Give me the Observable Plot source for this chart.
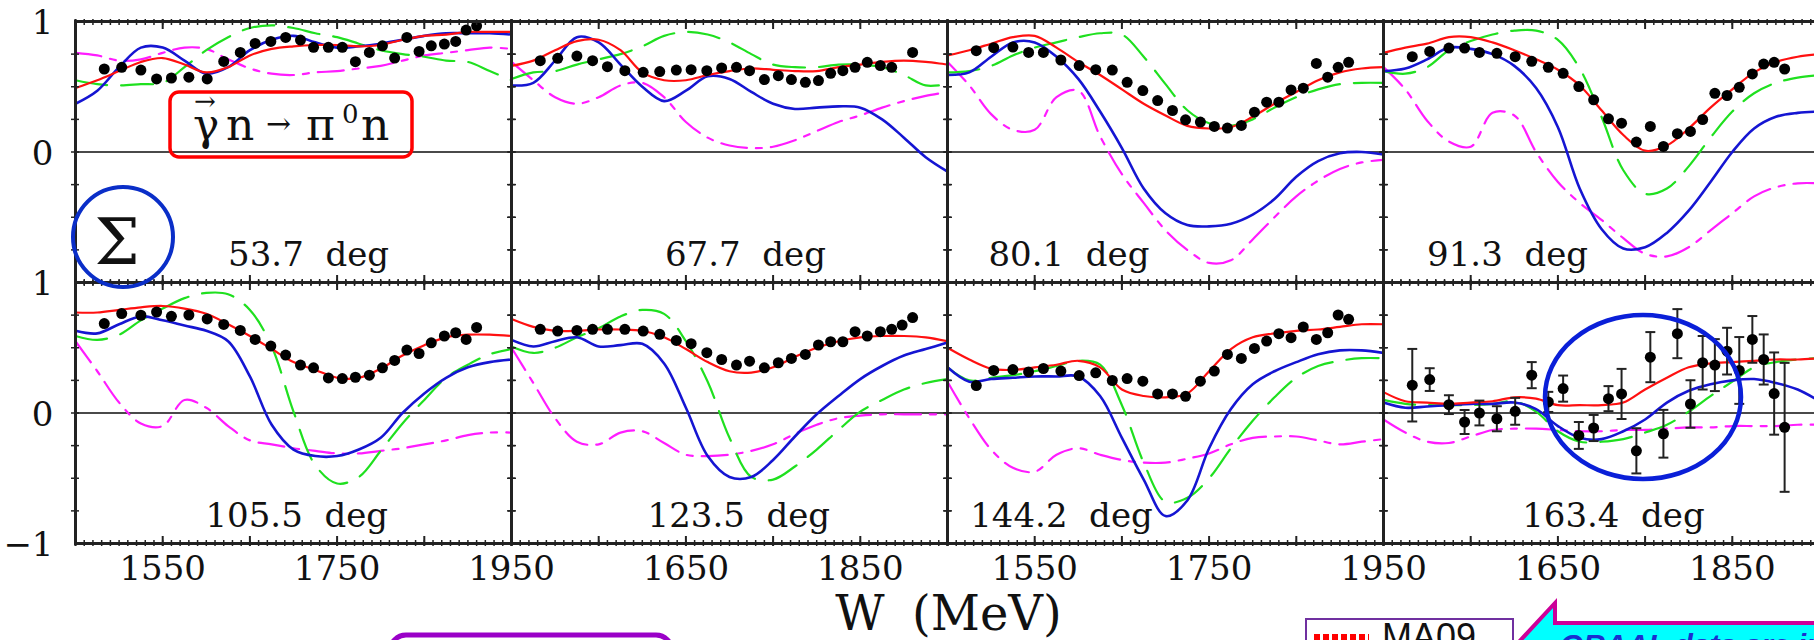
<!DOCTYPE html>
<html><head><meta charset="utf-8">
<script src="https://cdn.jsdelivr.net/npm/d3@7"></script>
<script src="https://cdn.jsdelivr.net/npm/@observablehq/plot@0.6"></script>
<style>
html,body{margin:0;padding:0;background:#fff;overflow:hidden;}
#chart svg{max-width:none !important;display:block;}
svg text{white-space:pre;}
</style></head><body><div id="chart"></div>
<script>
// ---- panels (scattering angles) ----
const angles = ["53.7","67.7","80.1","91.3","105.5","123.5","144.2","163.4"];
// label anchor (W, MeV) of each panel's angle label
const labelW = [1625,1626,1497,1500,1599,1606,1476,1609];

// ---- model curves on a common W grid (MeV) ----
const wGrid = [1450,1475,1500,1525,1550,1575,1600,1625,1650,1675,1700,1725,1750,1775,1800,1825,1850,1875,1900,1925,1950];
const ma09 = [ // red solid
 [0.49,0.55,0.62,0.69,0.72,0.67,0.61,0.65,0.74,0.79,0.81,0.82,0.82,0.81,0.82,0.86,0.89,0.90,0.92,0.92,0.92],
 [0.66,0.70,0.78,0.85,0.86,0.78,0.61,0.55,0.55,0.59,0.62,0.64,0.63,0.62,0.62,0.65,0.67,0.69,0.70,0.69,0.67],
 [0.74,0.78,0.83,0.88,0.89,0.80,0.69,0.59,0.48,0.37,0.28,0.20,0.18,0.19,0.27,0.37,0.46,0.55,0.61,0.64,0.65],
 [0.76,0.80,0.83,0.88,0.88,0.84,0.78,0.71,0.63,0.51,0.32,0.13,0.01,0.05,0.18,0.34,0.48,0.61,0.69,0.73,0.75],
 [0.77,0.77,0.79,0.81,0.82,0.80,0.76,0.68,0.59,0.49,0.39,0.33,0.27,0.27,0.34,0.44,0.52,0.58,0.60,0.60,0.59],
 [0.72,0.66,0.63,0.63,0.64,0.64,0.63,0.58,0.49,0.39,0.32,0.31,0.35,0.43,0.50,0.55,0.58,0.59,0.59,0.58,0.55],
 [0.50,0.41,0.34,0.33,0.35,0.37,0.40,0.35,0.18,0.13,0.12,0.15,0.32,0.49,0.58,0.61,0.63,0.64,0.66,0.68,0.68],
 [0.16,0.09,0.08,0.07,0.08,0.09,0.12,0.11,0.06,0.06,0.06,0.08,0.18,0.27,0.35,0.38,0.39,0.40,0.41,0.41,0.42]
];
const blueModel = [ // blue solid
 [0.37,0.47,0.65,0.80,0.80,0.70,0.60,0.65,0.78,0.86,0.89,0.84,0.80,0.81,0.83,0.86,0.89,0.91,0.91,0.91,0.90],
 [0.51,0.53,0.70,0.88,0.84,0.67,0.50,0.39,0.47,0.58,0.56,0.46,0.37,0.33,0.34,0.35,0.34,0.25,0.11,-0.04,-0.15],
 [0.59,0.61,0.73,0.84,0.84,0.73,0.56,0.31,0.03,-0.28,-0.47,-0.56,-0.57,-0.55,-0.48,-0.36,-0.19,-0.07,-0.01,0.00,-0.02],
 [0.62,0.64,0.71,0.80,0.79,0.75,0.66,0.49,0.19,-0.28,-0.59,-0.74,-0.73,-0.62,-0.45,-0.23,0.00,0.18,0.27,0.30,0.31],
 [0.63,0.61,0.68,0.74,0.71,0.67,0.63,0.55,0.28,-0.09,-0.28,-0.33,-0.33,-0.28,-0.19,0.00,0.15,0.27,0.35,0.39,0.41],
 [0.56,0.51,0.55,0.58,0.51,0.52,0.53,0.38,0.04,-0.33,-0.49,-0.49,-0.36,-0.18,-0.01,0.13,0.26,0.36,0.44,0.49,0.54],
 [0.35,0.24,0.26,0.27,0.28,0.28,0.28,0.13,-0.19,-0.51,-0.79,-0.67,-0.27,0.03,0.22,0.32,0.39,0.45,0.48,0.48,0.46],
 [0.08,0.04,0.05,0.06,0.07,0.07,0.08,0.03,-0.10,-0.19,-0.20,-0.14,-0.05,0.08,0.17,0.22,0.25,0.26,0.23,0.18,0.09]
];
const greenModel = [ // green long dash
 [0.55,0.52,0.51,0.52,0.53,0.65,0.78,0.88,0.95,0.97,0.95,0.91,0.88,0.83,0.78,0.75,0.73,0.70,0.69,0.62,0.55],
 [0.56,0.61,0.62,0.67,0.71,0.75,0.81,0.89,0.92,0.90,0.84,0.75,0.67,0.65,0.65,0.67,0.67,0.65,0.59,0.51,0.52],
 [0.61,0.62,0.66,0.74,0.80,0.84,0.88,0.91,0.90,0.73,0.52,0.32,0.22,0.20,0.25,0.34,0.42,0.48,0.52,0.53,0.53],
 [0.62,0.60,0.65,0.78,0.85,0.90,0.93,0.93,0.86,0.64,0.27,-0.14,-0.32,-0.28,-0.11,0.11,0.31,0.45,0.53,0.57,0.59],
 [0.59,0.56,0.60,0.71,0.80,0.88,0.92,0.91,0.79,0.51,0.01,-0.40,-0.54,-0.49,-0.29,-0.08,0.10,0.27,0.37,0.45,0.49],
 [0.51,0.46,0.50,0.58,0.65,0.74,0.79,0.76,0.55,0.24,-0.19,-0.49,-0.51,-0.41,-0.28,-0.13,0.01,0.10,0.18,0.23,0.26],
 [0.35,0.25,0.27,0.29,0.32,0.36,0.40,0.37,0.06,-0.38,-0.68,-0.65,-0.50,-0.27,-0.06,0.12,0.27,0.36,0.40,0.42,0.42],
 [0.10,0.07,0.06,0.06,0.06,0.07,0.09,0.01,-0.14,-0.22,-0.22,-0.20,-0.15,-0.09,0.01,0.13,0.24,0.35,0.39,0.41,0.42]
];
const magentaModel = [ // magenta dash-dot
 [0.76,0.74,0.70,0.71,0.76,0.80,0.79,0.71,0.64,0.60,0.59,0.61,0.62,0.64,0.66,0.70,0.74,0.76,0.78,0.80,0.79],
 [0.69,0.55,0.42,0.37,0.42,0.51,0.53,0.42,0.23,0.11,0.05,0.03,0.04,0.09,0.16,0.23,0.28,0.34,0.39,0.43,0.46],
 [0.69,0.51,0.29,0.17,0.17,0.42,0.47,0.12,-0.17,-0.39,-0.60,-0.75,-0.85,-0.83,-0.67,-0.50,-0.34,-0.22,-0.13,-0.08,-0.06],
 [0.65,0.48,0.24,0.08,0.04,0.30,0.28,0.00,-0.23,-0.39,-0.52,-0.66,-0.78,-0.80,-0.73,-0.60,-0.47,-0.34,-0.27,-0.24,-0.24],
 [0.55,0.32,0.08,-0.08,-0.10,0.10,0.04,-0.10,-0.21,-0.24,-0.27,-0.29,-0.31,-0.31,-0.29,-0.27,-0.24,-0.21,-0.17,-0.15,-0.15],
 [0.50,0.23,-0.04,-0.22,-0.24,-0.15,-0.14,-0.23,-0.32,-0.33,-0.32,-0.29,-0.24,-0.16,-0.09,-0.04,-0.02,-0.01,-0.01,-0.01,-0.01],
 [0.24,-0.04,-0.28,-0.42,-0.45,-0.32,-0.27,-0.32,-0.36,-0.38,-0.38,-0.35,-0.31,-0.24,-0.19,-0.18,-0.18,-0.21,-0.24,-0.22,-0.20],
 [-0.05,-0.15,-0.22,-0.23,-0.18,-0.13,-0.12,-0.12,-0.13,-0.14,-0.14,-0.13,-0.13,-0.12,-0.11,-0.11,-0.10,-0.10,-0.10,-0.09,-0.09]
];

// ---- GRAAL data: common energies, beam asymmetry per panel ----
const dataW = [1483,1503,1525,1543,1560,1580,1601,1620,1639,1656,1674,1691,1708,1723,1740,1756,1771,1787,1802,1816,1830,1844,1858,1873,1886,1898,1910];
const sigma = [
 [0.636,0.649,0.628,0.560,0.567,0.573,0.560,0.694,0.763,0.832,0.847,0.878,0.858,0.802,0.802,0.802,0.692,0.763,0.814,0.720,0.878,0.771,0.814,0.827,0.847,0.934,0.967],
 [0.700,0.718,0.735,0.700,0.654,0.623,0.611,0.616,0.628,0.631,0.623,0.644,0.649,0.623,0.555,0.585,0.555,0.534,0.547,0.603,0.623,0.649,0.687,0.662,0.649,null,0.763],
 [0.776,0.799,0.804,0.763,0.763,0.705,0.662,0.631,0.628,0.534,0.471,0.394,0.318,0.247,0.229,0.196,0.183,0.204,0.305,0.382,0.382,0.476,0.489,0.679,0.573,0.649,0.687],
 [0.730,0.771,0.796,0.796,0.763,0.756,0.730,0.695,0.649,0.603,0.501,0.400,0.254,0.221,0.076,0.196,0.043,0.140,0.158,0.249,0.450,0.433,0.496,0.598,0.674,0.687,0.636],
 [0.685,0.762,0.749,0.774,0.741,0.751,0.721,0.679,0.633,0.564,0.513,0.444,0.367,0.346,0.269,0.264,0.274,0.290,0.346,0.403,0.482,0.456,0.538,0.590,0.615,0.564,0.656],
 [0.641,0.628,0.633,0.641,0.641,0.641,0.628,0.603,0.556,0.531,0.462,0.410,0.367,0.397,0.346,0.385,0.418,0.449,0.521,0.546,0.546,0.623,0.590,0.623,0.641,0.674,0.731],
 [0.210,0.326,0.333,0.315,0.341,0.321,0.287,0.308,0.249,0.264,0.244,0.146,0.146,0.128,0.244,0.321,0.449,0.418,0.495,0.551,0.608,0.577,0.659,0.564,0.615,0.751,0.718],
 [0.213,0.256,0.064,-0.069,0.000,-0.044,0.013,0.290,0.085,0.187,-0.172,-0.115,0.110,0.146,-0.290,0.428,-0.159,0.608,0.069,0.385,0.367,0.474,0.326,0.564,0.410,0.149,-0.110]
];
const sigmaErr163 = [0.278,0.087,0.072,0.092,0.095,0.096,0.103,0.100,0.077,0.100,0.103,0.100,0.096,0.192,0.173,0.192,0.183,0.188,0.182,0.205,0.199,0.179,0.256,0.179,0.192,0.315,0.494];

// ---- axis tick labels ----
const xTickLabels = [[1550,1750,1950],[1650,1850],[1550,1750,1950],[1650,1850]];
const yTickLabels = [[0,1,"1"],[0,0,"0"],[1,1,"1"],[1,0,"0"],[1,-1,"\u22121"]];
const minorX = d3.range(1450,1951,10);
const majorX = [1450,1550,1650,1750,1850,1950];
const yTicks = [-0.75,-0.5,-0.25,0,0.25,0.5,0.75];

// ---- build tables ----
const col = p => p % 4, row = p => Math.floor(p / 4);
const models = [
  {name:"magenta", vals: magentaModel, stroke:"#ff1cff", width:2.2, dash:"26,9,6,9"},
  {name:"green", vals: greenModel, stroke:"#1fe01f", width:2.2, dash:"32,14"},
  {name:"blue", vals: blueModel, stroke:"#1515d2", width:2.6, dash:null},
  {name:"MA09", vals: ma09, stroke:"#ff1010", width:2.2, dash:null}
];
const curveRows = m => m.vals.flatMap((arr,p) => arr.map((v,i) => ({col:col(p),row:row(p),W:wGrid[i],v})));
const dataRows = sigma.flatMap((arr,p) => arr.map((v,i) => ({col:col(p),row:row(p),W:dataW[i],v,e:p===7?sigmaErr163[i]:null}))).filter(d => d.v != null);
const errRows = dataRows.filter(d => d.e != null);
const panels = angles.map((a,p) => ({col:col(p),row:row(p),W:labelW[p],text:`${a}  deg`}));
const zeroRows = d3.cross([0,1,2,3],[0,1]).map(([c,r]) => ({col:c,row:r,v:0}));
const xLabRows = xTickLabels.flatMap((ts,c) => ts.map(t => ({col:c,row:1,W:t,text:String(t)})));
const yLabRows = yTickLabels.map(([r,v,t]) => ({col:0,row:r,v,text:t}));

const capSymbol = {draw(ctx,size){const w=Math.sqrt(size);ctx.moveTo(-w/2,0);ctx.lineTo(w/2,0);}};
const font = "DejaVu Serif";

const chart = Plot.plot({
  width: 1819, height: 640,
  marginLeft: 75, marginRight: 0, marginTop: 21, marginBottom: 97,
  style: {fontFamily: font, fontSize: "34px", background: "white", maxWidth: "none"},
  fx: {domain:[0,1,2,3], padding:0, axis:null},
  fy: {domain:[0,1], padding:0, axis:null},
  x: {domain:[1450,1950], label:null},
  y: {domain:[-1,1], label:null},
  marks: [
    Plot.ruleY(zeroRows, {y:"v", fx:"col", fy:"row", stroke:"#4a4a4a", strokeWidth:2}),
    ...models.map(m => Plot.line(curveRows(m), {x:"W", y:"v", fx:"col", fy:"row", stroke:m.stroke, strokeWidth:m.width, strokeDasharray:m.dash, curve:"catmull-rom", clip:true})),
    Plot.ruleX(errRows, {x:"W", y1:d=>d.v-d.e, y2:d=>d.v+d.e, fx:"col", fy:"row", stroke:"#222", strokeWidth:2, clip:true}),
    Plot.dot(errRows, {x:"W", y:d=>d.v+d.e, fx:"col", fy:"row", symbol:capSymbol, r:5.6, stroke:"#222", strokeWidth:2}),
    Plot.dot(errRows, {x:"W", y:d=>d.v-d.e, fx:"col", fy:"row", symbol:capSymbol, r:5.6, stroke:"#222", strokeWidth:2}),
    Plot.dot(dataRows, {x:"W", y:"v", fx:"col", fy:"row", r:5.5, fill:"#000"}),
    Plot.frame({stroke:"#222", strokeWidth:3}),
    Plot.axisX(minorX, {anchor:"bottom", tickSize:6, dy:-3, tickFormat:()=>"", label:null, facetAnchor:null, stroke:"#222", strokeWidth:1.5}),
    Plot.axisX(minorX, {anchor:"top", tickSize:6, dy:3, tickFormat:()=>"", label:null, facetAnchor:null, stroke:"#222", strokeWidth:1.5}),
    Plot.axisX(majorX, {anchor:"bottom", tickSize:10, dy:-7, tickFormat:()=>"", label:null, facetAnchor:null, stroke:"#222", strokeWidth:2}),
    Plot.axisX(majorX, {anchor:"top", tickSize:10, dy:7, tickFormat:()=>"", label:null, facetAnchor:null, stroke:"#222", strokeWidth:2}),
    Plot.axisY(yTicks, {anchor:"left", tickSize:8, dx:4, tickFormat:()=>"", label:null, facetAnchor:null, stroke:"#222", strokeWidth:1.5}),
    Plot.axisY(yTicks, {anchor:"right", tickSize:8, dx:-4, tickFormat:()=>"", label:null, facetAnchor:null, stroke:"#222", strokeWidth:1.5}),
    Plot.text(xLabRows, {x:"W", text:"text", fx:"col", fy:"row", frameAnchor:"bottom", dy:26, lineAnchor:"middle", fontSize:34, fill:"#111"}),
    Plot.text(yLabRows, {y:"v", text:"text", fx:"col", fy:"row", frameAnchor:"left", dx:-22, dy:2, textAnchor:"end", lineAnchor:"middle", fontSize:34, fill:"#111"}),
    Plot.text(panels, {x:"W", text:"text", fx:"col", fy:"row", frameAnchor:"bottom", dy:-17, lineAnchor:"bottom", textAnchor:"start", fontSize:34, fill:"#111"})
  ]
});
document.getElementById("chart").appendChild(chart);

// ---- annotations ----
const svg = d3.select(chart);
const ann = svg.append("g").attr("font-family", font).attr("text-anchor","start");
// reaction box
ann.append("rect").attr("x",170).attr("y",92).attr("width",242).attr("height",65).attr("rx",9)
  .attr("fill","none").attr("stroke","#ff0000").attr("stroke-width",3.5);
const rx = ann.append("text").attr("y",140).attr("font-size",44).attr("fill","#111");
rx.append("tspan").attr("x",193).text("γ");
rx.append("tspan").attr("x",226).text("n");
rx.append("tspan").attr("x",266).attr("font-size",30).attr("dy",-6).text("→");
rx.append("tspan").attr("x",306).attr("dy",6).text("π");
rx.append("tspan").attr("x",342).attr("font-size",26).attr("dy",-17).text("0");
rx.append("tspan").attr("x",361).attr("dy",17).text("n");
ann.append("text").attr("x",194).attr("y",110).attr("font-size",26).attr("fill","#111").text("→");
// Sigma circle
ann.append("circle").attr("cx",123).attr("cy",237).attr("r",50).attr("fill","none").attr("stroke","#0a2ec8").attr("stroke-width",4);
ann.append("text").attr("x",117).attr("y",264).attr("text-anchor","middle").attr("font-size",64).attr("fill","#111").text("Σ");
// ellipse in 163.4 deg panel
ann.append("ellipse").attr("cx",1643).attr("cy",397).attr("rx",98).attr("ry",82).attr("fill","none").attr("stroke","#0a1fd8").attr("stroke-width",4.5);
// x axis title
ann.append("text").attr("x",860).attr("y",630).attr("text-anchor","middle").attr("font-size",48).attr("fill","#111").text("W");
ann.append("text").attr("x",912).attr("y",630).attr("font-size",48).attr("fill","#111").text("(MeV)");
// purple rounded box (cut at bottom)
ann.append("rect").attr("x",390).attr("y",635).attr("width",282).attr("height",40).attr("rx",16)
  .attr("fill","white").attr("stroke","#9a00c8").attr("stroke-width",5);
// legend box
ann.append("rect").attr("x",1306).attr("y",619).attr("width",207).attr("height",40)
  .attr("fill","white").attr("stroke","#7030a0").attr("stroke-width",2);
ann.append("line").attr("x1",1314).attr("x2",1369).attr("y1",637).attr("y2",637).attr("stroke","#ff0000").attr("stroke-width",6).attr("stroke-dasharray","6,3");
ann.append("text").attr("x",1382).attr("y",649).attr("font-family","Liberation Sans").attr("font-size",36).attr("fill","#111").text("MA09");
// callout
ann.append("path").attr("d","M1517,644 L1555,603 L1555,623 L1830,623 L1830,660 L1517,660 Z")
  .attr("fill","#00ffff").attr("stroke","#cc0099").attr("stroke-width",4).attr("stroke-linejoin","miter");
ann.append("text").attr("x",1560).attr("y",655).attr("font-family","Liberation Sans").attr("font-weight","bold").attr("font-style","italic")
  .attr("font-size",30).attr("fill","#1a2fd0").text("GRAAL data are in");
</script></body></html>
